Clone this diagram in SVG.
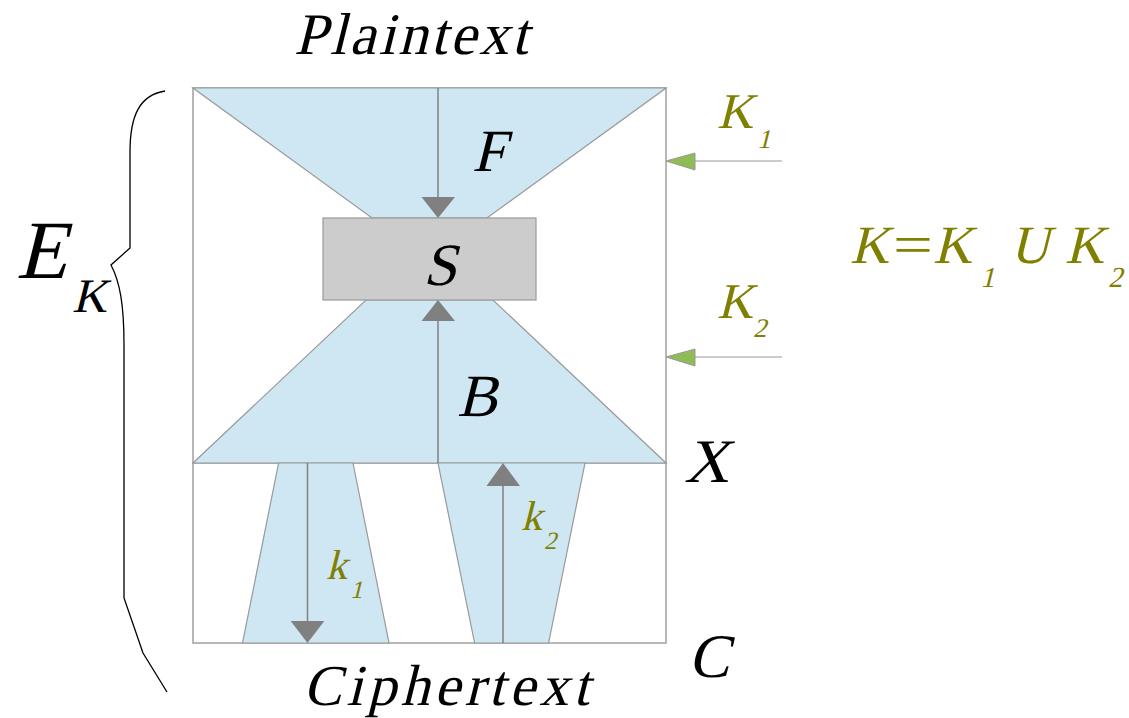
<svg xmlns="http://www.w3.org/2000/svg" width="1129" height="718" viewBox="0 0 1129 718">
<style>
.o{fill:#808000}
.blue{fill:#cfe6f3;stroke:#999;stroke-width:1.2}
.box{fill:#fff;stroke:#a0a0a0;stroke-width:1.5}
.ar{stroke:#808080;stroke-width:1.5;fill:none}
.ah{fill:#808080}
.gh{fill:#8fbc55;stroke:#999;stroke-width:1}
</style>
<rect width="1129" height="718" fill="#fff"/>
<g id="frame">
<rect class="box" x="193" y="88" width="473" height="375"/>
<rect class="box" x="193" y="463" width="473" height="180"/>
</g>
<g font-family="Liberation Serif, DejaVu Serif, serif" fill="#000">
<g id="F">
<polygon class="blue" points="193,88 666,88 487,218 372,218"/>
<text transform="translate(472,171) skewX(-14)" font-size="60">F</text>
</g>
<g id="B">
<polygon class="blue" points="366,300 493,300 666,463 193,463"/>
<text transform="translate(457,416) skewX(-14)" font-size="60">B</text>
</g>
<g id="k1">
<polygon class="blue" points="278.6,463 353,463 389,643 242.5,643"/>
<text class="o" transform="translate(326,579) skewX(-14)" font-size="42">k</text>
<text class="o" transform="translate(350,598) skewX(-14)" font-size="25">1</text>
</g>
<g id="k2">
<polygon class="blue" points="438,463 585,463 548.6,643 474.6,643"/>
<text class="o" transform="translate(521,530) skewX(-14)" font-size="42">k</text>
<text class="o" transform="translate(544,549) skewX(-14)" font-size="25">2</text>
</g>
<g id="S">
<rect x="323" y="218" width="213" height="82" fill="#cccccc" stroke="#999" stroke-width="1.2"/>
<text transform="translate(423,285) skewX(-14)" font-size="60">S</text>
</g>
<g id="connectors">
<line class="ar" x1="438" y1="88" x2="438" y2="198"/>
<polygon class="ah" points="421.5,197 455,197 438,218"/>
<line class="ar" x1="438" y1="463" x2="438" y2="320"/>
<polygon class="ah" points="421.5,321 455,321 438,300"/>
<line class="ar" x1="307.5" y1="463" x2="307.5" y2="622"/>
<polygon class="ah" points="290.7,621 324.3,621 307.5,643"/>
<line class="ar" x1="503" y1="643" x2="503" y2="485"/>
<polygon class="ah" points="486.5,486 520,486 503,463"/>
<line stroke="#999" stroke-width="1.2" x1="782" y1="161" x2="695" y2="161"/>
<polygon class="gh" points="666,161 695,153 695,170"/>
<line stroke="#999" stroke-width="1.2" x1="782" y1="357" x2="695" y2="357"/>
<polygon class="gh" points="666,357 695,349 695,366"/>
</g>
<g id="brace">
<path d="M165,91 C140,95 130,115 130,152 L130,248 L111,265 C120,282 124,305 124,345 L124,598 L143,653 L167,692" fill="none" stroke="#000" stroke-width="1.3"/>
</g>
<g id="labels">
<text transform="translate(294,54) skewX(-14)" font-size="59" textLength="234">Plaintext</text>
<text transform="translate(303,705) skewX(-14)" font-size="58" textLength="286">Ciphertext</text>
<text transform="translate(684,482) skewX(-14)" font-size="62">X</text>
<text transform="translate(688,677) skewX(-14)" font-size="62">C</text>
<text transform="translate(16,278) skewX(-14)" font-size="83">E</text>
<text transform="translate(72,312) skewX(-14)" font-size="48">K</text>
<text class="o" transform="translate(717,128) skewX(-14)" font-size="50">K</text>
<text class="o" transform="translate(757,148) skewX(-14)" font-size="27">1</text>
<text class="o" transform="translate(717,318) skewX(-14)" font-size="50">K</text>
<text class="o" transform="translate(753,337) skewX(-14)" font-size="27">2</text>
<text class="o" transform="translate(850,263) skewX(-14)" font-size="54">K</text>
<text class="o" x="893" y="263" font-size="54" textLength="40" lengthAdjust="spacingAndGlyphs">=</text>
<text class="o" transform="translate(933,263) skewX(-14)" font-size="54">K</text>
<text class="o" transform="translate(980,287) skewX(-14)" font-size="29">1</text>
<text class="o" transform="translate(1010,263) skewX(-14)" font-size="54">U</text>
<text class="o" transform="translate(1065,263) skewX(-14)" font-size="54">K</text>
<text class="o" transform="translate(1108,287) skewX(-14)" font-size="29">2</text>
</g>
</g>
</svg>
